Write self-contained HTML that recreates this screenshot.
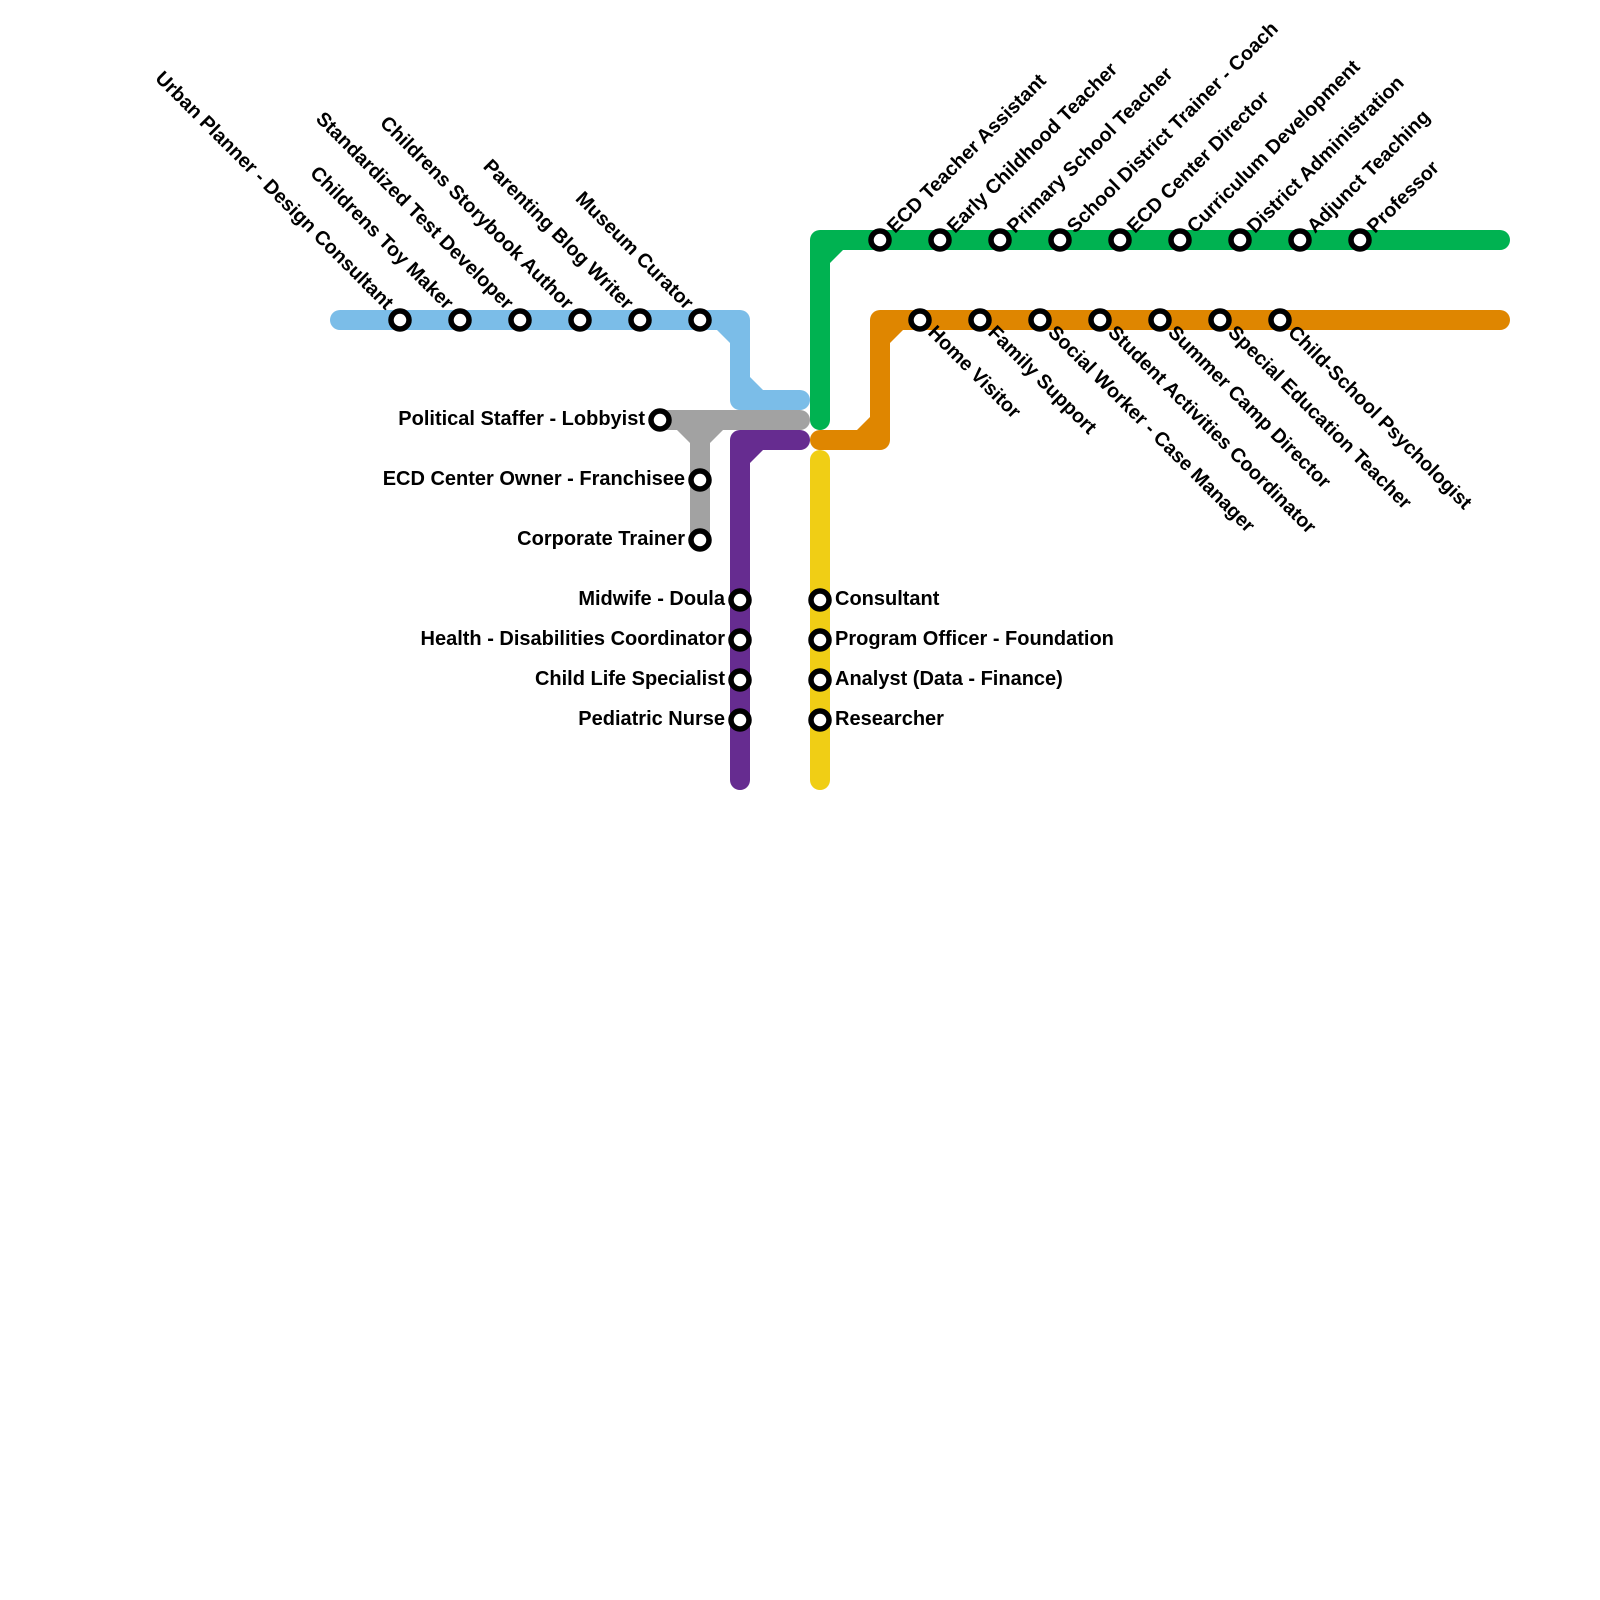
<!DOCTYPE html>
<html>
<head>
<meta charset="utf-8">
<style>
html,body{margin:0;padding:0;background:#fff;width:1600px;height:1600px;overflow:hidden}
svg{display:block}
text{font-family:"Liberation Sans",sans-serif;font-weight:700;font-size:20px;fill:#000}
.r text{font-size:19.75px}
.l{fill:none;stroke-width:20;stroke-linecap:round;stroke-linejoin:round}
circle{fill:#fff;stroke:#000;stroke-width:5.5}
</style>
</head>
<body>
<svg width="1600" height="1600" viewBox="0 0 1600 1600" xmlns="http://www.w3.org/2000/svg">
<rect width="1600" height="1600" fill="#fff"/>
<!-- lines -->
<path class="l" stroke="#7bbde8" d="M340 320H740V400H800"/>
<polygon fill="#7bbde8" points="717,330 730,330 730,343"/>
<polygon fill="#7bbde8" points="750,377 750,390 763,390"/>
<path class="l" stroke="#a2a2a2" d="M660 420H800M700 420V540"/>
<polygon fill="#a2a2a2" points="677,430 690,430 690,443"/>
<polygon fill="#a2a2a2" points="710,443 710,430 723,430"/>
<path class="l" stroke="#662c90" d="M800 440H740V780"/>
<polygon fill="#662c90" points="750,463 750,450 763,450"/>
<path class="l" stroke="#00b251" d="M820 420V240H1500"/>
<polygon fill="#00b251" points="830,263 830,250 843,250"/>
<path class="l" stroke="#df8600" d="M820 440H880V320H1500"/>
<polygon fill="#df8600" points="857,430 870,430 870,417"/>
<polygon fill="#df8600" points="890,343 890,330 903,330"/>
<path class="l" stroke="#f0ce15" d="M820 460V780"/>
<!-- stations -->
<g>
<circle cx="400" cy="320" r="9"/><circle cx="460" cy="320" r="9"/><circle cx="520" cy="320" r="9"/><circle cx="580" cy="320" r="9"/><circle cx="640" cy="320" r="9"/><circle cx="700" cy="320" r="9"/>
<circle cx="660" cy="420" r="9"/><circle cx="700" cy="480" r="9"/><circle cx="700" cy="540" r="9"/>
<circle cx="740" cy="600" r="9"/><circle cx="740" cy="640" r="9"/><circle cx="740" cy="680" r="9"/><circle cx="740" cy="720" r="9"/>
<circle cx="820" cy="600" r="9"/><circle cx="820" cy="640" r="9"/><circle cx="820" cy="680" r="9"/><circle cx="820" cy="720" r="9"/>
<circle cx="880" cy="240" r="9"/><circle cx="940" cy="240" r="9"/><circle cx="1000" cy="240" r="9"/><circle cx="1060" cy="240" r="9"/><circle cx="1120" cy="240" r="9"/><circle cx="1180" cy="240" r="9"/><circle cx="1240" cy="240" r="9"/><circle cx="1300" cy="240" r="9"/><circle cx="1360" cy="240" r="9"/>
<circle cx="920" cy="320" r="9"/><circle cx="980" cy="320" r="9"/><circle cx="1040" cy="320" r="9"/><circle cx="1100" cy="320" r="9"/><circle cx="1160" cy="320" r="9"/><circle cx="1220" cy="320" r="9"/><circle cx="1280" cy="320" r="9"/>
</g>
<!-- left-aligned horizontal labels -->
<g text-anchor="end">
<text x="645" y="425">Political Staffer - Lobbyist</text>
<text x="685" y="485">ECD Center Owner - Franchisee</text>
<text x="685" y="545">Corporate Trainer</text>
<text x="725" y="605">Midwife - Doula</text>
<text x="725" y="645">Health - Disabilities Coordinator</text>
<text x="725" y="685">Child Life Specialist</text>
<text x="725" y="725">Pediatric Nurse</text>
</g>
<g>
<text x="835" y="605">Consultant</text>
<text x="835" y="645">Program Officer - Foundation</text>
<text x="835" y="685">Analyst (Data - Finance)</text>
<text x="835" y="725">Researcher</text>
</g>
<!-- blue labels -->
<g class="r" text-anchor="end">
<text transform="translate(385.5,310.5) rotate(45)">Urban Planner - Design Consultant</text>
<text transform="translate(445.5,310.5) rotate(45)">Childrens Toy Maker</text>
<text transform="translate(505.5,310.5) rotate(45)">Standardized Test Developer</text>
<text transform="translate(565.5,310.5) rotate(45)">Childrens Storybook Author</text>
<text transform="translate(625.5,310.5) rotate(45)">Parenting Blog Writer</text>
<text transform="translate(685.5,310.5) rotate(45)">Museum Curator</text>
</g>
<!-- green labels -->
<g class="r">
<text transform="translate(895,234) rotate(-45)">ECD Teacher Assistant</text>
<text transform="translate(955,234) rotate(-45)">Early Childhood Teacher</text>
<text transform="translate(1015,234) rotate(-45)">Primary School Teacher</text>
<text transform="translate(1075,234) rotate(-45)">School District Trainer - Coach</text>
<text transform="translate(1135,234) rotate(-45)">ECD Center Director</text>
<text transform="translate(1195,234) rotate(-45)">Curriculum Development</text>
<text transform="translate(1255,234) rotate(-45)">District Administration</text>
<text transform="translate(1315,234) rotate(-45)">Adjunct Teaching</text>
<text transform="translate(1375,234) rotate(-45)">Professor</text>
</g>
<!-- orange labels -->
<g class="r">
<text transform="translate(927,333.5) rotate(45)">Home Visitor</text>
<text transform="translate(987,333.5) rotate(45)">Family Support</text>
<text transform="translate(1047,333.5) rotate(45)">Social Worker - Case Manager</text>
<text transform="translate(1107,333.5) rotate(45)">Student Activities Coordinator</text>
<text transform="translate(1167,333.5) rotate(45)">Summer Camp Director</text>
<text transform="translate(1227,333.5) rotate(45)">Special Education Teacher</text>
<text transform="translate(1287,333.5) rotate(45)">Child-School Psychologist</text>
</g>
</svg>
</body>
</html>
